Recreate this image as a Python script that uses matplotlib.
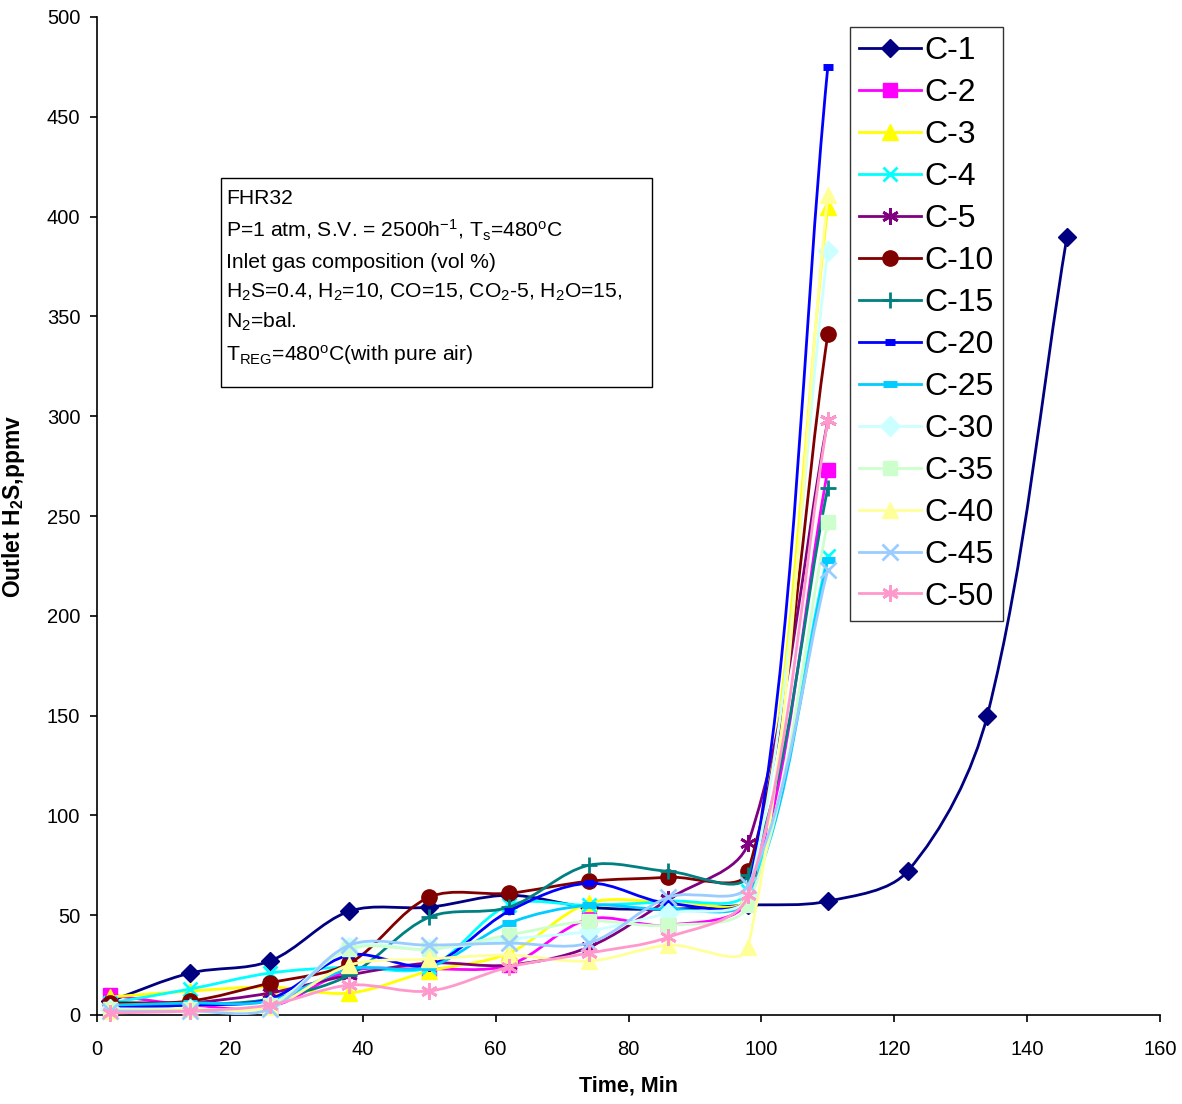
import matplotlib

matplotlib.use("Agg")
import matplotlib.pyplot as plt
import numpy as np
from matplotlib.lines import Line2D
from matplotlib.patches import PathPatch, Rectangle
from matplotlib.path import Path

plt.rcParams["font.family"] = ["Liberation Sans", "DejaVu Sans"]
plt.rcParams["mathtext.fontset"] = "custom"
plt.rcParams["mathtext.rm"] = "Liberation Sans"
plt.rcParams["mathtext.it"] = "Liberation Sans:italic"
plt.rcParams["mathtext.bf"] = "Liberation Sans:bold"

# time axis (min)
time_short = [2, 14, 26, 38, 50, 62, 74, 86, 98, 110]
time_c1 = [2, 14, 26, 38, 50, 62, 74, 86, 98, 110, 122, 134, 146]

# outlet H2S (ppmv) per cycle
c1 = [7, 21, 27, 52, 54, 60, 54, 53, 55, 57, 72, 150, 390]
c2 = [10, 5, 4, 22, 23, 25, 48, 45, 58, 273]
c3 = [9, 12, 14, 11, 22, 31, 56, 57, 60, 405]
c4 = [6, 13, 21, 24, 24, 55, 55, 57, 62, 230]
c5 = [4, 6, 11, 20, 26, 25, 34, 58, 86, 298]
c10 = [6, 7, 16, 26, 59, 61, 67, 69, 72, 341]
c15 = [4, 5, 8, 20, 49, 54, 75, 72, 70, 264]
c20 = [4, 5, 8, 30, 25, 52, 66, 56, 60, 475]
c25 = [5, 6, 7, 23, 24, 46, 55, 53, 58, 228]
c30 = [3, 3, 5, 34, 33, 38, 42, 51, 60, 383]
c35 = [3, 3, 5, 33, 33, 40, 47, 45, 55, 247]
c40 = [2, 3, 4, 25, 28, 30, 27, 35, 34, 411]
c45 = [2, 2, 3, 35, 35, 36, 36, 59, 65, 223]
c50 = [1, 2, 5, 15, 12, 24, 31, 39, 60, 298]

labels = ["C-1", "C-2", "C-3", "C-4", "C-5", "C-10", "C-15",
          "C-20", "C-25", "C-30", "C-35", "C-40", "C-45", "C-50"]
series = [c1, c2, c3, c4, c5, c10, c15, c20, c25, c30, c35, c40, c45, c50]

colors = ["#000080", "#FF00FF", "#FFFF00", "#00FFFF", "#800080", "#800000",
          "#008080", "#0000FF", "#00CCFF", "#CCFFFF", "#CCFFCC", "#FFFF99",
          "#99CCFF", "#FF99CC"]
asterisk = (6, 2, 0)
markers = [("D", 9, 1), ("s", 10, 1), ("^", 11, 1), ("x", 10, 2),
           (asterisk, 12, 2), ("o", 11, 1), ("+", 12, 2), ("_", 7, 5),
           ("_", 10, 5), ("D", 10, 1), ("s", 10, 1), ("^", 11, 1),
           ("x", 11, 2), (asterisk, 12, 2)]


def smooth_path(ax, xs, ys):
    # Excel-like smoothed line: cubic Bezier with distance-weighted tangents
    pts = ax.transData.transform(np.column_stack([xs, ys]))
    n = len(pts)
    verts = [pts[0]]
    for i in range(n - 1):
        p0 = pts[i - 1] if i > 0 else pts[i]
        p1, p2 = pts[i], pts[i + 1]
        p3 = pts[i + 2] if i + 2 < n else pts[i + 1]
        d01 = np.hypot(*(p1 - p0))
        d12 = np.hypot(*(p2 - p1))
        d23 = np.hypot(*(p3 - p2))
        cp1 = p1 + (p2 - p0) * d12 / (d01 + d12) / 3
        cp2 = p2 - (p3 - p1) * d12 / (d12 + d23) / 3
        verts += [cp1, cp2, p2]
    verts = ax.transData.inverted().transform(np.array(verts))
    codes = [Path.MOVETO] + [Path.CURVE4] * (3 * (n - 1))
    return Path(verts, codes)


fig = plt.figure(figsize=(11.82, 11.04), dpi=100)
ax = fig.add_axes([97 / 1182, 1 - 1015 / 1104, 1063 / 1182, 998 / 1104])
ax.set_xlim(0, 160)
ax.set_ylim(0, 500)

handles = []
for k, (lab, ys, col, mk) in enumerate(zip(labels, series, colors, markers)):
    xs = time_c1 if lab == "C-1" else time_short
    patch = PathPatch(smooth_path(ax, xs, ys), facecolor="none", edgecolor=col,
                      lw=2.0, zorder=2 + k, capstyle="round", joinstyle="round")
    ax.add_patch(patch)
    ax.plot(xs, ys, linestyle="none", marker=mk[0], markersize=mk[1],
            markeredgewidth=mk[2], color=col, zorder=2 + k, clip_on=False)
    handles.append(Line2D([], [], color=col, lw=2.0, marker=mk[0],
                          markersize=mk[1], markeredgewidth=mk[2]))

ax.spines["top"].set_visible(False)
ax.spines["right"].set_visible(False)
for s in ("left", "bottom"):
    ax.spines[s].set_linewidth(1.2)
ax.set_xticks(range(0, 161, 20))
ax.set_yticks(range(0, 501, 50))
ax.tick_params(direction="out", length=5, width=1.2, labelsize=14.5)
ax.tick_params(axis="x", pad=13)
ax.tick_params(axis="y", pad=7)
ax.set_xlabel("Time, Min", fontsize=15.5, fontweight="bold", labelpad=12)
ax.set_ylabel(r"Outlet H$_\mathbf{2}$S,ppmv", fontsize=16.5,
              fontweight="bold")
ax.yaxis.set_label_coords(-0.066, 0.51)

leg = fig.legend(handles, labels, loc="upper left",
                 bbox_to_anchor=(850 / 1182, 1 - 27 / 1104),
                 fontsize=23, frameon=True, fancybox=False, borderaxespad=0,
                 handlelength=1.95, handletextpad=0.1, labelspacing=0.375,
                 borderpad=0.28)
leg.get_frame().set_edgecolor("black")
leg.get_frame().set_linewidth(1.0)

# condition box
fig.patches.append(Rectangle((221 / 1182, 1 - 387 / 1104), 431 / 1182,
                             209 / 1104, transform=fig.transFigure,
                             facecolor="white", edgecolor="black", lw=1.0,
                             zorder=20))
info_lines = [
    "FHR32",
    r"P=1 atm, S.V. = 2500h$^{\mathrm{-1}}$, T$_{\mathrm{s}}$=480$^{\mathrm{o}}$C",
    "Inlet gas composition (vol %)",
    r"H$_{\mathrm{2}}$S=0.4, H$_{\mathrm{2}}$=10, CO=15, CO$_{\mathrm{2}}$-5, H$_{\mathrm{2}}$O=15,",
    r"N$_{\mathrm{2}}$=bal.",
    r"T$_{\mathrm{REG}}$=480$^{\mathrm{o}}$C(with pure air)",
]
line_y = [198, 230, 262, 292, 322, 355]
for txt, yy in zip(info_lines, line_y):
    fig.text(226 / 1182, 1 - yy / 1104, txt, fontsize=15.2, va="center",
             ha="left", zorder=21)

fig.savefig("out.png", dpi=100)
